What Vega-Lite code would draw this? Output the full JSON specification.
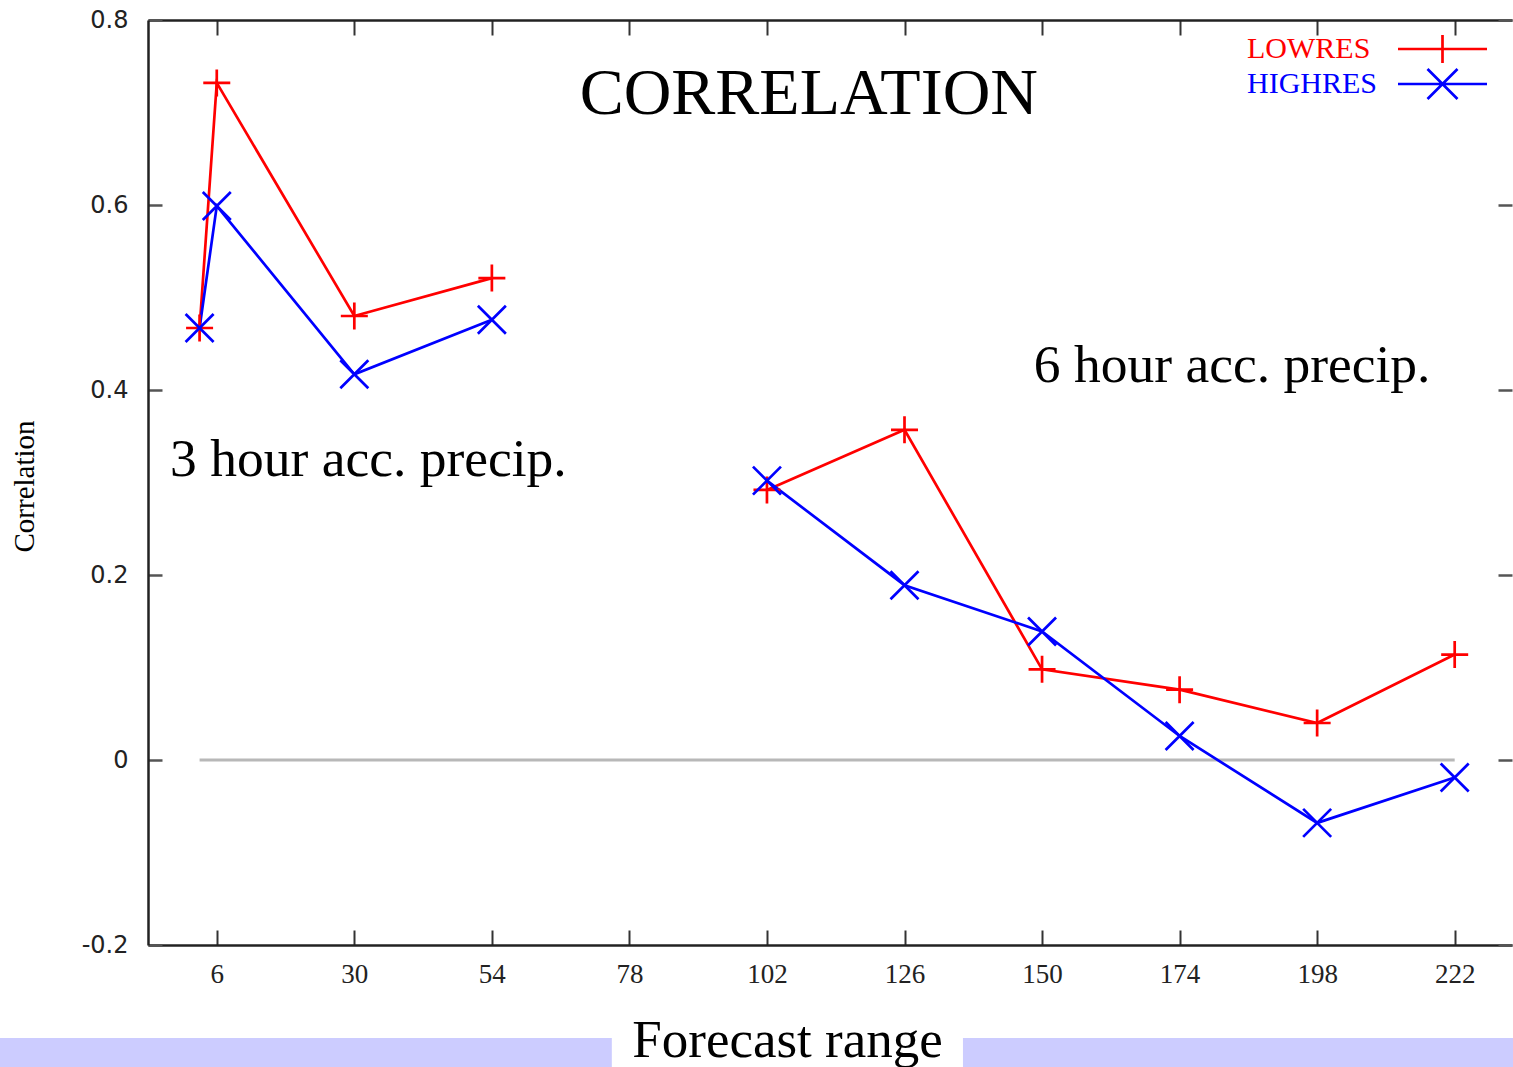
{
  "$schema": "https://vega.github.io/schema/vega-lite/v6.json",
  "width": 1364,
  "height": 925,
  "autosize": "none",
  "padding": {"left": 148, "top": 20, "right": 1, "bottom": 122},
  "background": "white",
  "config": {"view": {"stroke": null}},
  "data": {
    "values": [
      {"series": "LOWRES", "hour": 3, "corr": 0.467, "seg": 1},
      {"series": "LOWRES", "hour": 6, "corr": 0.732, "seg": 1},
      {"series": "LOWRES", "hour": 30, "corr": 0.480, "seg": 1},
      {"series": "LOWRES", "hour": 54, "corr": 0.521, "seg": 1},
      {"series": "LOWRES", "hour": 102, "corr": 0.292, "seg": 2},
      {"series": "LOWRES", "hour": 126, "corr": 0.357, "seg": 2},
      {"series": "LOWRES", "hour": 150, "corr": 0.098, "seg": 2},
      {"series": "LOWRES", "hour": 174, "corr": 0.076, "seg": 2},
      {"series": "LOWRES", "hour": 198, "corr": 0.040, "seg": 2},
      {"series": "LOWRES", "hour": 222, "corr": 0.114, "seg": 2},
      {"series": "HIGHRES", "hour": 3, "corr": 0.467, "seg": 1},
      {"series": "HIGHRES", "hour": 6, "corr": 0.599, "seg": 1},
      {"series": "HIGHRES", "hour": 30, "corr": 0.417, "seg": 1},
      {"series": "HIGHRES", "hour": 54, "corr": 0.476, "seg": 1},
      {"series": "HIGHRES", "hour": 102, "corr": 0.302, "seg": 2},
      {"series": "HIGHRES", "hour": 126, "corr": 0.189, "seg": 2},
      {"series": "HIGHRES", "hour": 150, "corr": 0.139, "seg": 2},
      {"series": "HIGHRES", "hour": 174, "corr": 0.026, "seg": 2},
      {"series": "HIGHRES", "hour": 198, "corr": -0.068, "seg": 2},
      {"series": "HIGHRES", "hour": 222, "corr": -0.019, "seg": 2}
    ]
  },
  "resolve": {"axis": {"x": "independent", "y": "independent"}},
  "layer": [
    {
      "data": {"values": [{}]},
      "mark": {"type": "rect", "color": "#ccccff", "clip": false},
      "encoding": {
        "x": {"datum": -32, "type": "quantitative", "scale": {"domain": [-6, 232], "nice": false, "zero": false}, "axis": null},
        "x2": {"datum": 74.93},
        "y": {"datum": -0.3005, "type": "quantitative", "scale": {"domain": [-0.2, 0.8], "nice": false, "zero": false}, "axis": null},
        "y2": {"datum": -0.34}
      }
    },
    {
      "data": {"values": [{}]},
      "mark": {"type": "rect", "color": "#ccccff", "clip": false},
      "encoding": {
        "x": {"datum": 136.2, "type": "quantitative", "axis": null},
        "x2": {"datum": 236},
        "y": {"datum": -0.3005, "type": "quantitative", "axis": null},
        "y2": {"datum": -0.34}
      }
    },
    {
      "data": {"values": [{}]},
      "mark": {"type": "rule", "color": "#b8b8b8", "strokeWidth": 3},
      "encoding": {
        "x": {"datum": 3, "type": "quantitative", "axis": null},
        "x2": {"datum": 222},
        "y": {"datum": 0, "type": "quantitative", "axis": null}
      }
    },
    {
      "transform": [{"filter": "datum.series === 'LOWRES'"}],
      "mark": {"type": "line", "strokeWidth": 2.7, "color": "#ff0000"},
      "encoding": {
        "x": {
          "field": "hour", "type": "quantitative",
          "axis": {
            "orient": "bottom", "values": [6, 30, 54, 78, 102, 126, 150, 174, 198, 222],
            "grid": false, "tickSize": -15, "tickColor": "#333", "tickWidth": 2,
            "domainColor": "#222", "domainWidth": 2.5,
            "labelFont": "Liberation Serif", "labelFontSize": 27, "labelColor": "#222",
            "labelPadding": 31, "labelFlush": false, "labelOverlap": false,
            "title": "Forecast range", "titleFont": "Liberation Serif", "titleFontSize": 53,
            "titleFontWeight": "normal", "titleColor": "#000",
            "titleX": 639, "titleY": 111, "titleBaseline": "alphabetic", "titleAlign": "center"
          }
        },
        "y": {
          "field": "corr", "type": "quantitative",
          "axis": {
            "orient": "left", "values": [-0.2, 0, 0.2, 0.4, 0.6, 0.8],
            "grid": false, "tickSize": -14, "tickColor": "#555", "tickWidth": 2.5,
            "domainColor": "#222", "domainWidth": 2.5,
            "labelFont": "DejaVu Sans", "labelFontSize": 24, "labelColor": "#222",
            "labelPadding": 34, "labelFlush": false, "labelOverlap": false,
            "labelExpr": "datum.value < 0 ? '-' + format(-datum.value, '.1f') : (datum.value == 0 ? '0' : format(datum.value, '.1f'))",
            "title": "Correlation", "titleFont": "Liberation Serif", "titleFontSize": 29,
            "titleFontWeight": "normal", "titleColor": "#000", "titleAngle": 270,
            "titleX": -115, "titleY": 466, "titleAlign": "center", "titleBaseline": "alphabetic"
          }
        },
        "detail": {"field": "seg", "type": "nominal"}
      }
    },
    {
      "transform": [{"filter": "datum.series === 'HIGHRES'"}],
      "mark": {"type": "line", "strokeWidth": 2.7, "color": "#0000ff"},
      "encoding": {
        "x": {"field": "hour", "type": "quantitative", "axis": null},
        "y": {"field": "corr", "type": "quantitative", "axis": null},
        "detail": {"field": "seg", "type": "nominal"}
      }
    },
    {
      "transform": [{"filter": "datum.series === 'LOWRES'"}],
      "mark": {"type": "point", "shape": "M-1,0H1M0,-1V1", "size": 729, "filled": false, "strokeWidth": 2.7, "color": "#ff0000", "opacity": 1},
      "encoding": {
        "x": {
          "field": "hour", "type": "quantitative",
          "axis": {"orient": "top", "values": [6, 30, 54, 78, 102, 126, 150, 174, 198, 222], "grid": false, "labels": false, "title": null, "tickSize": -15, "tickColor": "#333", "tickWidth": 2, "domainColor": "#222", "domainWidth": 2.5}
        },
        "y": {
          "field": "corr", "type": "quantitative",
          "axis": {"orient": "right", "values": [-0.2, 0, 0.2, 0.4, 0.6, 0.8], "grid": false, "labels": false, "title": null, "tickSize": -14, "tickColor": "#555", "tickWidth": 2.5, "domain": false}
        }
      }
    },
    {
      "transform": [{"filter": "datum.series === 'HIGHRES'"}],
      "mark": {"type": "point", "shape": "M-1,-1L1,1M-1,1L1,-1", "size": 784, "filled": false, "strokeWidth": 2.7, "color": "#0000ff", "opacity": 1},
      "encoding": {
        "x": {"field": "hour", "type": "quantitative", "axis": null},
        "y": {"field": "corr", "type": "quantitative", "axis": null}
      }
    },
    {
      "data": {"values": [{}]},
      "mark": {"type": "text", "text": "CORRELATION", "font": "Liberation Serif", "fontSize": 66, "align": "center", "baseline": "alphabetic", "color": "#000"},
      "encoding": {
        "x": {"datum": 109.3, "type": "quantitative", "axis": null},
        "y": {"datum": 0.698, "type": "quantitative", "axis": null}
      }
    },
    {
      "data": {"values": [{}]},
      "mark": {"type": "text", "text": "3 hour acc. precip.", "font": "Liberation Serif", "fontSize": 53.5, "align": "center", "baseline": "alphabetic", "color": "#000"},
      "encoding": {
        "x": {"datum": 32.46, "type": "quantitative", "axis": null},
        "y": {"datum": 0.307, "type": "quantitative", "axis": null}
      }
    },
    {
      "data": {"values": [{}]},
      "mark": {"type": "text", "text": "6 hour acc. precip.", "font": "Liberation Serif", "fontSize": 53.5, "align": "center", "baseline": "alphabetic", "color": "#000"},
      "encoding": {
        "x": {"datum": 183.17, "type": "quantitative", "axis": null},
        "y": {"datum": 0.409, "type": "quantitative", "axis": null}
      }
    },
    {
      "data": {"values": [{"series": "LOWRES"}, {"series": "HIGHRES"}]},
      "transform": [{"filter": "false"}],
      "mark": {"type": "point", "filled": false, "size": 400, "strokeWidth": 2.7, "opacity": 1},
      "encoding": {
        "color": {
          "field": "series", "type": "nominal",
          "scale": {"domain": ["LOWRES", "HIGHRES"], "range": ["#ff0000", "#0000ff"]},
          "legend": {"title": null, "orient": "none", "legendX": 1279.5, "legendY": 14, "padding": 0, "symbolSize": 400, "symbolStrokeWidth": 2.7, "symbolOpacity": 1, "labelFont": "Liberation Serif", "labelFontSize": 30, "labelOffset": -210.5, "labelAlign": "left", "labelColor": {"expr": "datum.value === 'LOWRES' ? '#ff0000' : '#0000ff'"}, "rowPadding": -10}
        },
        "shape": {
          "field": "series", "type": "nominal",
          "scale": {"domain": ["LOWRES", "HIGHRES"], "range": ["M-4.45,0H4.45M0,-1.4V1.4", "M-4.45,0H4.45M-1.5,-1.5L1.5,1.5M-1.5,1.5L1.5,-1.5"]},
          "legend": {"title": null, "orient": "none", "legendX": 1279.5, "legendY": 14, "padding": 0, "symbolSize": 400, "symbolStrokeWidth": 2.7, "symbolOpacity": 1, "labelFont": "Liberation Serif", "labelFontSize": 30, "labelOffset": -210.5, "labelAlign": "left", "labelColor": {"expr": "datum.value === 'LOWRES' ? '#ff0000' : '#0000ff'"}, "rowPadding": -10}
        }
      }
    }
  ]
}
